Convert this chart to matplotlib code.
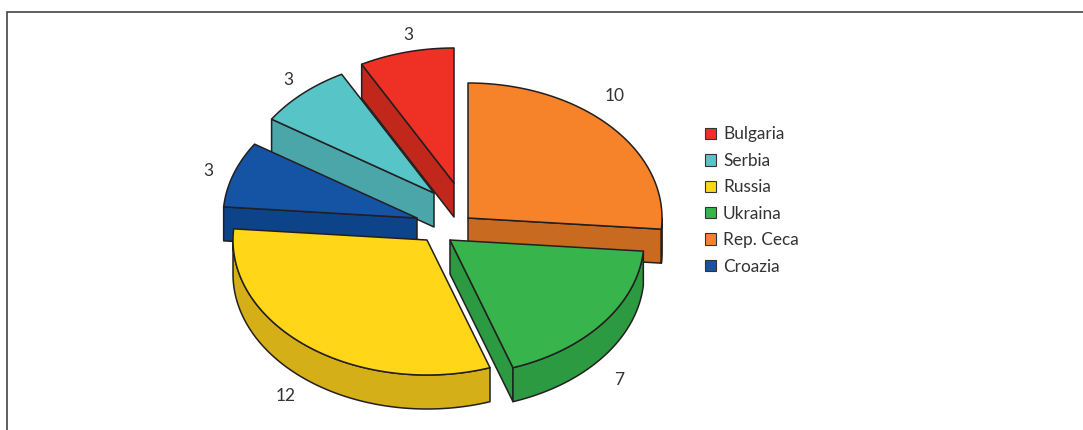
import numpy as np
from matplotlib import pyplot as plt
from matplotlib.patches import Patch, Polygon

plt.rcParams['font.family'] = ['Lato', 'DejaVu Sans']

# legend order
legend_names = ['Bulgaria', 'Serbia', 'Russia', 'Ukraina', 'Rep. Ceca', 'Croazia']
legend_colors = ['#EE3124', '#57C5C7', '#FFD618', '#37B44C', '#F6822A', '#1554A4']

# slices clockwise from 12 o'clock
names = ['Rep. Ceca', 'Ukraina', 'Russia', 'Croazia', 'Serbia', 'Bulgaria']
values = [10, 7, 12, 3, 3, 3]

top_colors = ['#F6822A', '#37B44C', '#FFD618', '#1554A4', '#57C5C7', '#EE3124']
side_colors = ['#C86A20', '#2C9A40', '#D4AF18', '#0D4388', '#4AA6A9', '#C1271B']
apex_x = [468, 450, 427, 417, 434, 454]
apex_y = [218, 240, 240, 218, 193, 183]
label_x = [615, 619, 286, 208, 288, 408]
label_y = [96, 380, 396, 171, 80, 35]
draw_order = [5, 4, 3, 0, 2, 1]

RX = 194
RY = 135
DEPTH = 34
EDGE = '#231F20'
LW = 1.1


def rim(cx, cy, a0, a1):
    # points on the ellipse, angles clockwise from the top in degrees
    t = np.radians(np.linspace(a0, a1, max(int(abs(a1 - a0)) * 2, 2)))
    return np.column_stack((cx + RX * np.sin(t), cy - RY * np.cos(t)))


def extrude(pts):
    # band between a top edge and the same edge moved down
    return np.vstack((pts, pts[::-1] + [0, DEPTH]))


fig = plt.figure(figsize=(10.83, 4.30), dpi=100)
ax = fig.add_axes([0, 0, 1, 1])
ax.set_xlim(0, 1083)
ax.set_ylim(430, 0)
ax.axis('off')

ax.plot([7, 7, 1083], [430, 12, 12], color='#444444', lw=1.2, solid_joinstyle='miter')

edges = np.concatenate(([0], np.cumsum(values))) / sum(values) * 360

for i in draw_order:
    a0, a1 = edges[i], edges[i + 1]
    cx, cy = apex_x[i], apex_y[i]
    apex = np.array([[cx, cy]])

    # only the cut faces that look towards the viewer
    faces = []
    if np.sin(np.radians(a0)) < 0:
        faces.append(extrude(np.vstack((apex, rim(cx, cy, a0, a0)[:1]))))
    if np.sin(np.radians(a1)) > 0:
        faces.append(extrude(np.vstack((apex, rim(cx, cy, a1, a1)[:1]))))
    lo, hi = max(a0, 90), min(a1, 270)
    if hi > lo:
        faces.append(extrude(rim(cx, cy, lo, hi)))
    for face in faces:
        ax.add_patch(Polygon(face, closed=True, fc=side_colors[i], ec=EDGE, lw=LW, joinstyle='round'))

    top = np.vstack((apex, rim(cx, cy, a0, a1)))
    ax.add_patch(Polygon(top, closed=True, fc=top_colors[i], ec=EDGE, lw=LW, joinstyle='round'))

for x, y, v in zip(label_x, label_y, values):
    ax.text(x, y, str(v), fontsize=12.5, color='#333333', ha='center', va='center')

handles = [Patch(fc=c, ec='#333333', lw=0.8, label=n) for n, c in zip(legend_names, legend_colors)]
ax.legend(handles=handles, loc='upper left', bbox_to_anchor=(705 / 1083, 1 - 126.5 / 430),
          frameon=False, fontsize=12.4, labelcolor='#333333', borderpad=0, borderaxespad=0,
          handlelength=0.64, handleheight=0.64, handletextpad=0.41, labelspacing=0.605)

fig.savefig('out.png', dpi=100)
